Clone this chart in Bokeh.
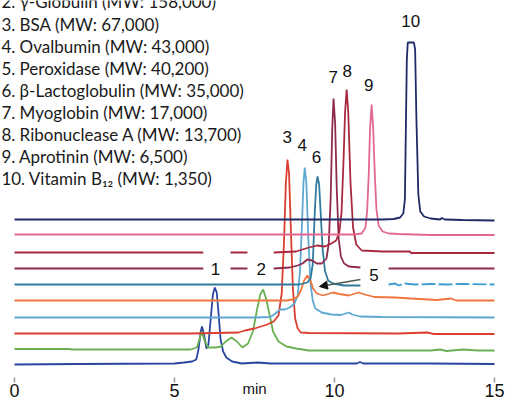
import math
from bokeh.plotting import figure
from bokeh.models import Range1d, FixedTicker, Arrow, NormalHead
from bokeh.core.properties import value
from bokeh.embed import file_html
from bokeh.resources import INLINE

nan = float("nan")

# ---------------- data ----------------
legend_lines = [
    "2. γ-Globulin (MW: 158,000)",
    "3. BSA (MW: 67,000)",
    "4. Ovalbumin (MW: 43,000)",
    "5. Peroxidase (MW: 40,200)",
    "6. β-Lactoglobulin (MW: 35,000)",
    "7. Myoglobin (MW: 17,000)",
    "8. Ribonuclease A (MW: 13,700)",
    "9. Aprotinin (MW: 6,500)",
    "10. Vitamin B₁₂ (MW: 1,350)",
]
legend_y = [401.6, 379.5, 357.4, 335.3, 313.2, 291.1, 269.0, 246.9, 224.8]

# stacked offsets of the chromatograms (trace 1 at bottom ... trace 10 at top)
offsets = [39, 54, 70, 86, 103, 119, 135, 151, 169, 184]
colors = ["#2A46A0", "#69B052", "#DC3E30", "#5EA8D2", "#F0743E",
          "#2E7B9E", "#8E2A4C", "#A8283E", "#E2688F", "#1F2B66"]

t1 = [0, 2.0, 5.0, 5.3, 5.55, 5.68, 5.75, 5.82, 5.86, 5.92, 6.0, 6.06, 6.13, 6.2, 6.26, 6.32,
      6.38, 6.44, 6.52, 6.62, 6.8, 7.1, 7.6, 8.0, 9.0, 10.7, 10.8, 10.9, 13.0, 15.0]
h1 = [0, 0.5, 1, 2, 3, 5, 15, 33, 38, 30, 16, 20, 45, 70, 77, 72,
      50, 25, 13, 7, 3, 1, 2, 1, 1, 1, 2.5, 1, 1, 0.5]

t2 = [0, 1.7, 1.8, 5.5, 5.7, 5.78, 5.85, 5.95, 6.05, 6.3, 6.45, 6.6, 6.78, 6.95, 7.12, 7.3,
      7.45, 7.58, 7.68, 7.77, 7.87, 7.97, 8.08, 8.25, 8.5, 8.8, 9.2, 13.0, 13.3, 13.5, 14.0,
      14.5, 15.0]
h2 = [0.5, 0.5, 0, 0, 2, 10, 18, 8, 2, 2, 3, 8, 12, 8, 2, 6,
      18, 40, 55, 60, 50, 35, 18, 8, 3, 1, -1, -1, 0, -1.5, 0, -1, -1]

t3 = [0, 5.5, 7.0, 7.2, 7.35, 7.5, 7.7, 7.9, 8.1, 8.25, 8.35, 8.42, 8.48, 8.53, 8.58, 8.64,
      8.7, 8.77, 8.85, 8.95, 9.2, 12.0, 12.9, 13.1, 15.0]
h3 = [0, 0, 1, 3, 4, 5, 7, 9, 12, 18, 40, 90, 150, 174, 160, 100,
      45, 15, 5, 1, 0.5, 0, 1, -0.5, -0.5]

t4 = [0, 7.5, 8.0, 8.15, 8.3, 8.45, 8.6, 8.75, 8.85, 8.92, 8.98, 9.03, 9.07, 9.12, 9.18, 9.25,
      9.32, 9.4, 9.6, 9.9, 10.2, 10.45, 10.55, 10.8, 11.5, 15.0]
h4 = [0, 0, 0.5, 4, 8, 8, 10, 14, 22, 45, 90, 135, 150, 135, 80, 34,
      17, 9, 5, 3, 2.5, 5, 3, 1, 0.5, 0]

t5 = [0, 8.5, 8.7, 8.85, 8.95, 9.05, 9.15, 9.25, 9.33, 9.45, 9.65, 9.95, 10.15, 10.45, 10.75,
      10.95, 11.25, 11.9, 12.4, 13.2, 13.65, 13.8, 15.0]
h5 = [0, 0, 1, 4, 10, 20, 25, 20, 12, 7, 5, 8, 6.5, 5, 8,
      6, 3.5, 3, 2, 0.5, 2, 0, 0]

t6 = [0, 8.9, 9.15, 9.25, 9.32, 9.38, 9.43, 9.47, 9.52, 9.57, 9.63, 9.7, 9.8, 9.95, 10.3, 10.81]
h6 = [0, 0, 2, 6, 20, 70, 100, 108, 100, 70, 35, 14, 4, 1, -1, -1]
t6b = [11.69, 11.9, 12.0, 12.2, 12.5, 13.0, 13.5, 14.0, 15.0]
h6b = [0, 1, -1, 1, 0, 0.5, 0, 0.5, 0]

t7 = [0, 5.9, nan, 6.75, 7.28, nan, 8.1, 8.6, 8.85, 9.0, 9.15, 9.3, 9.45, 9.6, 9.75, 9.82,
      9.88, 9.93, 9.97, 10.02, 10.07, 10.13, 10.2, 10.3, 10.45, 10.81, nan, 11.69, 15.0]
h7 = [0, 0, nan, 0, 0, nan, 0, 1, 3, 5, 9, 8, 5, 5, 10, 25,
      70, 140, 170, 145, 80, 30, 12, 5, 2, 1, nan, 0, 0]

t8 = [0, 5.9, nan, 6.75, 7.28, nan, 8.1, 8.8, 9.0, 9.2, 9.45, 9.7, 9.9, 10.05, 10.15, 10.22,
      10.28, 10.33, 10.38, 10.43, 10.5, 10.58, 10.68, 10.85, 11.5, 12.35, 12.4, 15.0]
h8 = [0, 0, nan, 0, 0, nan, 0, 1, 3, 5, 7, 6, 9, 12, 20, 40,
      90, 140, 163, 140, 70, 25, 8, 2, 1, 1, -0.5, -0.5]

t9 = [0, 10.6, 10.85, 10.97, 11.02, 11.07, 11.11, 11.16, 11.21, 11.26, 11.31, 11.38, 11.5,
      11.7, 12.0, 13.0, 15.0]
h9 = [0, 0, 1, 7, 24, 60, 105, 130, 105, 60, 25, 9, 3, 1, 0.5, -0.5, -0.5]

t10 = [0, 11.5, 11.85, 12.05, 12.15, 12.2, 12.23, 12.26, 12.29, 12.48, 12.52, 12.56, 12.62,
       12.68, 12.8, 13.0, 13.3, 13.35, 13.45, 14.0, 15.0]
h10 = [0, 0, 0.5, 2, 6, 20, 90, 160, 177, 177, 170, 100, 25,
       8, 3, 1, 0, 1.5, 0, -0.5, -1]

peak_labels = ["1", "2", "3", "4", "5", "6", "7", "8", "9", "10"]
peak_label_t = [6.28, 7.71, 8.52, 8.99, 11.23, 9.44, 9.96, 10.40, 11.07, 12.38]
peak_label_y = [134.7, 134.7, 266.3, 259.0, 129.0, 246.3, 327.0, 333.0, 319.0, 383.0]

x_ticks = [0, 5, 10, 15]
x_label = "min"

# ---------------- figure ----------------
p = figure(frame_width=508, frame_height=382,
           x_range=Range1d(-0.4375, 15.4375), y_range=Range1d(21, 403),
           output_backend="svg", toolbar_location=None, y_axis_location=None,
           min_border_left=0, min_border_right=0, min_border_top=0, min_border_bottom=0)
p.xgrid.visible = False
p.ygrid.visible = False
p.outline_line_color = None
p.background_fill_color = "white"
p.border_fill_color = "white"

ax = p.xaxis[0]
ax.ticker = FixedTicker(ticks=x_ticks)
ax.axis_line_color = None
ax.major_tick_in = 5
ax.major_tick_out = 0
ax.major_tick_line_color = "#9a9a9a"
ax.major_tick_line_width = 1.5
ax.minor_tick_line_color = None
ax.major_label_standoff = 1
ax.major_label_text_font = "Liberation Sans"
ax.major_label_text_font_size = "18px"
ax.major_label_text_color = "#111111"
ax.axis_label = x_label
ax.axis_label_text_font = "Liberation Sans"
ax.axis_label_text_font_style = "normal"
ax.axis_label_text_font_size = "15px"
ax.axis_label_text_color = "#111111"
ax.axis_label_standoff = -20

traces = [(t1, h1), (t2, h2), (t3, h3), (t4, h4), (t5, h5),
          (t6, h6), (t7, h7), (t8, h8), (t9, h9), (t10, h10)]
for (tt, hh), off, col in zip(traces, offsets, colors):
    yy = [h + off if not math.isnan(h) else nan for h in hh]
    p.line(tt, yy, line_color=col, line_width=1.8)

p.line(t6b, [h + offsets[5] for h in h6b], line_color="#3C9BD0", line_width=1.8,
       line_dash="14 3")

# arrow pointing at peak 5
p.add_layout(Arrow(end=NormalHead(size=8, fill_color="#111111", line_color="#111111"),
                   x_start=10.81, y_start=124, x_end=9.53, y_end=117,
                   line_color="#4d5d55", line_width=1.6))

# peak numbers
p.text(x=peak_label_t, y=peak_label_y, text=peak_labels,
       text_font=value("Liberation Sans"), text_font_size="17px",
       text_align="center", text_baseline="middle", text_color="#111111")

# legend text
p.text(x=[-0.41] * len(legend_lines), y=legend_y, text=legend_lines,
       text_font=value("Lato"), text_font_size="17px",
       text_align="left", text_baseline="middle", text_color="#1a1a1a")

open("out.html", "w").write(file_html(p, INLINE))
